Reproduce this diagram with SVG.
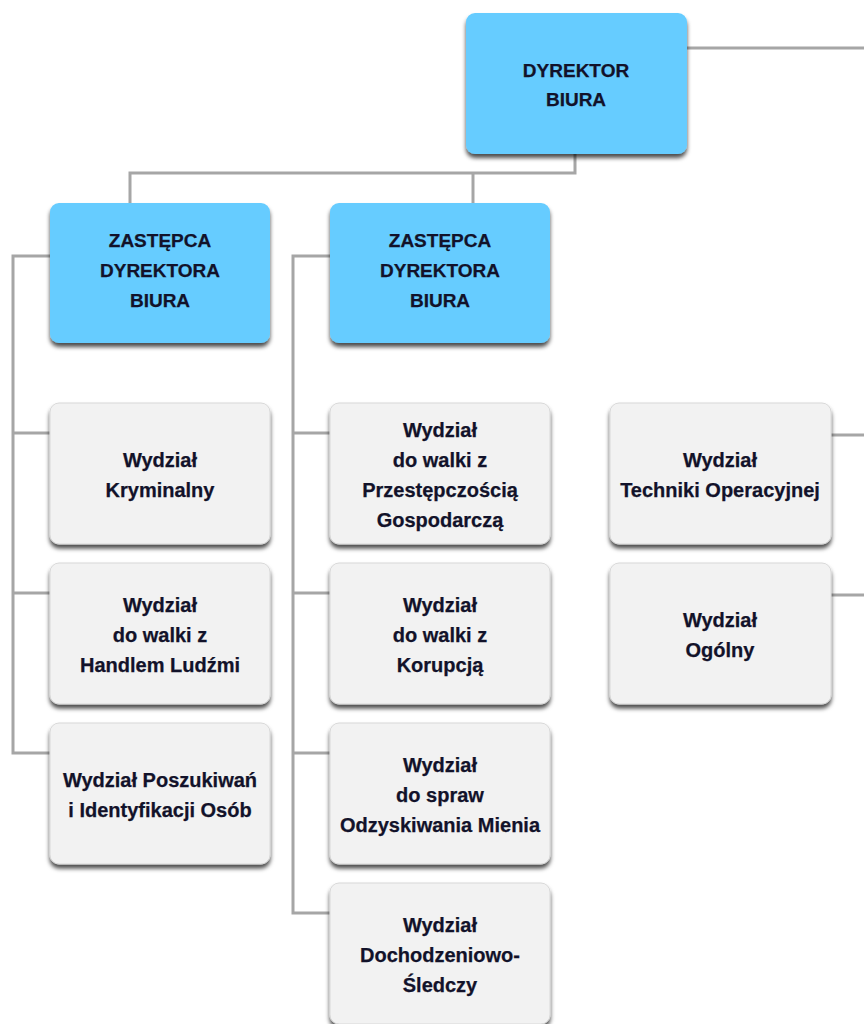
<svg xmlns="http://www.w3.org/2000/svg" width="864" height="1024" viewBox="0 0 864 1024">
<defs>
<filter id="sh" x="-10%" y="-10%" width="125%" height="130%">
<feDropShadow dx="0" dy="4" stdDeviation="2" flood-color="#000" flood-opacity="0.7"/>
</filter>
<style>
.blue{fill:#66ccff;filter:url(#sh)}
.grey{fill:#f2f2f2;stroke:#d8d8d8;stroke-width:1;filter:url(#sh)}
text{font-family:"Liberation Sans",Arial,sans-serif;font-weight:bold;font-size:20px;fill:#12122a;stroke:#12122a;stroke-width:0.25;text-anchor:middle}
.cap{font-size:19px}
.conn{fill:none;stroke:#a6a6a6;stroke-width:3}
</style>
</defs>
<rect width="864" height="1024" fill="#fff"/>
<g id="connectors" class="conn">
<path d="M687,48 H864"/>
<path d="M575,154 V173 H130 V203"/>
<path d="M473,173 V203"/>
<path d="M50,256 H13 V753 H50"/>
<path d="M13,433 H50"/>
<path d="M13,593 H50"/>
<path d="M330,256 H293 V913 H330"/>
<path d="M293,433 H330"/>
<path d="M293,593 H330"/>
<path d="M293,753 H330"/>
<path d="M831,435 H864"/>
<path d="M831,595 H864"/>
</g>
<g id="dyrektor">
<rect class="blue" x="466" y="13" width="221" height="141" rx="9"/>
<text class="cap" x="576" y="77">DYREKTOR</text>
<text class="cap" x="576" y="106">BIURA</text>
</g>
<g id="zastepca1">
<rect class="blue" x="50" y="203" width="220" height="140" rx="9"/>
<text class="cap" x="160" y="247">ZASTĘPCA</text>
<text class="cap" x="160" y="277">DYREKTORA</text>
<text class="cap" x="160" y="307">BIURA</text>
</g>
<g id="zastepca2">
<rect class="blue" x="330" y="203" width="220" height="140" rx="9"/>
<text class="cap" x="440" y="247">ZASTĘPCA</text>
<text class="cap" x="440" y="277">DYREKTORA</text>
<text class="cap" x="440" y="307">BIURA</text>
</g>
<g id="kryminalny">
<rect class="grey" x="50" y="403" width="220" height="141" rx="9"/>
<text x="160" y="467">Wydział</text>
<text x="160" y="497">Kryminalny</text>
</g>
<g id="handel">
<rect class="grey" x="50" y="563" width="220" height="141" rx="9"/>
<text x="160" y="612">Wydział</text>
<text x="160" y="642">do walki z</text>
<text x="160" y="672">Handlem Ludźmi</text>
</g>
<g id="poszukiwan">
<rect class="grey" x="50" y="723" width="220" height="141" rx="9"/>
<text x="160" y="787">Wydział Poszukiwań</text>
<text x="160" y="817">i Identyfikacji Osób</text>
</g>
<g id="gospodarcza">
<rect class="grey" x="330" y="403" width="220" height="141" rx="9"/>
<text x="440" y="437">Wydział</text>
<text x="440" y="467">do walki z</text>
<text x="440" y="497">Przestępczością</text>
<text x="440" y="527">Gospodarczą</text>
</g>
<g id="korupcja">
<rect class="grey" x="330" y="563" width="220" height="141" rx="9"/>
<text x="440" y="612">Wydział</text>
<text x="440" y="642">do walki z</text>
<text x="440" y="672">Korupcją</text>
</g>
<g id="mienie">
<rect class="grey" x="330" y="723" width="220" height="141" rx="9"/>
<text x="440" y="772">Wydział</text>
<text x="440" y="802">do spraw</text>
<text x="440" y="832">Odzyskiwania Mienia</text>
</g>
<g id="sledczy">
<rect class="grey" x="330" y="883" width="220" height="141" rx="9"/>
<text x="440" y="932">Wydział</text>
<text x="440" y="962">Dochodzeniowo-</text>
<text x="440" y="992">Śledczy</text>
</g>
<g id="techniki">
<rect class="grey" x="610" y="403" width="221" height="141" rx="9"/>
<text x="720" y="467">Wydział</text>
<text x="720" y="497">Techniki Operacyjnej</text>
</g>
<g id="ogolny">
<rect class="grey" x="610" y="563" width="221" height="141" rx="9"/>
<text x="720" y="627">Wydział</text>
<text x="720" y="657">Ogólny</text>
</g>
</svg>
